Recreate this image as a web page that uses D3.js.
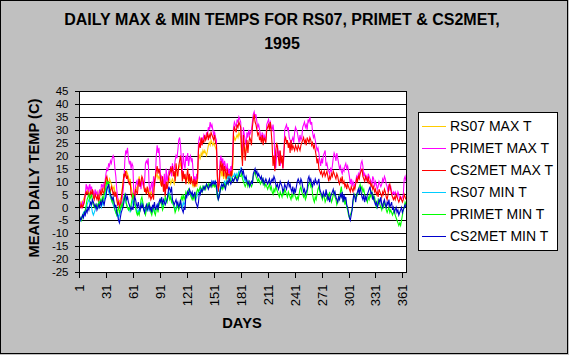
<!DOCTYPE html>
<html><head><meta charset="utf-8">
<script src="https://cdn.jsdelivr.net/npm/d3@7"></script>
<style>body{margin:0;background:#C0C0C0} svg{display:block}</style>
</head><body>
<svg id="c" width="569" height="355"></svg>
<script>
const titleLines = ["DAILY MAX & MIN TEMPS FOR RS07, PRIMET & CS2MET,", "1995"];
const yAxisTitle = "MEAN DAILY TEMP (C)";
const xAxisTitle = "DAYS";
const yTicks = [45,40,35,30,25,20,15,10,5,0,-5,-10,-15,-20,-25];
const yTickLabels = ["45","40","35","30","25","20","15","10","5","0","-5","-10","-15","-20","-25"];
const xTickDays = [1,31,61,91,121,151,181,211,241,271,301,331,361];
const xTickLabels = ["1","31","61","91","121","151","181","211","241","271","301","331","361"];
const seriesNames = ["RS07 MAX T","PRIMET MAX T","CS2MET MAX T","RS07 MIN T","PRIMET MIN T","CS2MET MIN T"];
const seriesColors = ["#FFCC00","#FF00FF","#FF0000","#00CCFF","#00FF00","#0000CC"];

const rs07Max = [1,2,1,2,1,3,4,5,6,6,
7,6,5,6,7,6,5,4,6,5,
5,6,4,5,6,7,6,8,7,9,
10,11,10,9,11,10,9,8,7,8,
6,5,4,2,3,2,3,4,7,10,
12,14,13,14,13,12,10,11,8,6,
5,4,6,8,7,8,10,12,10,9,
11,10,8,7,6,7,6,7,5,6,
5,6,7,6,9,11,12,13,11,12,
11,9,10,11,8,10,7,9,8,10,
10,11,9,10,11,10,9,11,12,13,
14,15,16,17,15,12,13,11,12,10,
11,12,9,11,10,11,9,8,9,8,
9,8,11,18,20,19,21,20,22,21,
22,21,20,22,24,25,24,26,25,24,
25,24,23,22,11,7,9,13,15,12,
14,11,13,12,10,13,12,13,11,12,
11,14,25,27,26,27,28,27,29,28,
27,20,18,24,22,21,23,22];

const primetMax = [1,2,1,0,2,1,3,5,9,7,
8,6,9,7,8,5,6,4,7,5,
6,4,5,7,5,9,8,9,7,10,
13,15,14,17,16,18,17,19,20,19,
15,12,7,4,2,1,2,1,3,6,
10,18,22,21,23,19,17,18,15,17,
16,5,3,8,10,9,11,8,10,7,
11,9,8,10,17,18,17,19,9,6,
8,10,5,12,8,11,20,24,21,23,
18,10,12,11,8,13,5,15,10,12,
14,13,16,12,17,14,15,18,20,19,
22,26,27,24,18,13,21,17,15,20,
18,21,16,19,20,18,19,14,10,12,
9,13,11,25,27,26,24,27,26,28,
27,26,29,28,31,30,33,31,32,30,
28,29,27,26,12,7,10,18,20,17,
19,15,18,16,14,17,13,15,12,16,
14,20,31,33,32,31,34,33,35,34,
33,25,19,31,28,26,24,29,27,30,
28,29,30,33,36,37,35,36,33,31,
32,30,28,27,29,26,28,27,26,32,
33,34,32,33,31,30,32,29,18,15,
20,24,19,22,16,20,18,15,19,30,
31,32,30,31,27,26,25,26,27,25,
29,31,30,29,27,25,28,26,27,31,
32,33,31,32,30,34,33,35,32,33,
29,27,28,26,24,22,23,21,18,16,
19,17,20,21,22,16,17,15,14,13,
15,14,16,19,21,20,18,21,19,17,
15,16,14,13,15,14,16,17,15,16,
14,12,9,11,8,10,9,8,10,12,
11,13,12,14,17,18,16,12,13,11,
12,10,13,12,11,10,9,12,11,8,
10,9,7,8,10,9,8,9,11,10,
12,11,9,8,6,9,7,8,6,5,
6,5,6,5,4,6,5,3,4,3,
4,5,11,12,10];

const cs2metMax = [0,1,0,1,0,1,2,5,6,5,
6,5,4,6,5,7,4,3,5,4,
3,5,2,4,6,5,7,6,5,9,
11,12,10,8,7,6,8,7,5,6,
4,6,3,1,2,0,1,3,6,9,
13,12,14,11,12,10,9,10,5,4,
3,5,4,7,6,5,9,11,8,10,
12,11,9,6,7,5,8,6,4,5,
3,4,5,3,10,12,14,16,13,15,
13,10,8,12,6,9,4,10,7,9,
12,13,15,14,16,12,14,10,17,14,
12,16,18,20,16,10,14,11,13,9,
12,15,10,13,9,12,10,9,11,8,
10,9,13,22,25,23,27,24,26,25,
28,26,27,29,26,28,27,29,28,27,
26,28,25,24,13,6,9,15,18,14,
17,12,16,14,11,15,11,13,10,14,
12,17,29,31,30,29,32,31,33,32,
31,22,16,28,24,18,22,26,21,25,
27,26,24,31,34,36,33,32,30,28,
29,26,27,25,28,24,27,26,25,30,
31,32,30,33,29,24,16,20,14,22,
25,23,19,16,22,17,20,15,21,26,
27,25,26,23,25,21,26,22,24,23,
22,24,23,22,24,23,22,24,25,26,
27,25,26,24,27,26,25,27,26,24,
25,23,24,22,20,17,19,15,14,13,
14,12,13,14,12,13,14,12,10,12,
11,13,12,14,13,12,11,13,12,10,
9,11,10,12,9,10,8,9,7,9,
8,7,6,8,7,6,8,7,9,11,
10,12,11,13,14,15,12,11,10,12,
11,10,12,9,10,8,9,7,8,6,
7,5,6,4,7,6,5,4,6,5,
7,6,4,3,5,8,9,7,5,4,
3,4,3,5,4,3,2,3,4,3,
2,3,5,4,3];

const rs07Min = [-4,-4,-5,-4,-3,-2,-3,-2,0,1,
2,3,2,1,0,-2,-3,-2,-1,0,
0,1,0,2,1,0,2,1,3,4,
6,8,7,6,5,4,3,2,1,0,
-1,-2,-3,-2,-4,-3,-2,0,1,2,
3,4,2,1,0,-1,0,-2,0,1,
3,2,1,0,-1,-2,-1,-2,0,1,
2,1,0,-1,-2,0,1,-1,0,-1,
-1,-2,0,-1,-2,-1,0,1,0,1,
2,3,2,0,1,2,3,2,3,5,
6,5,4,3,2,1,0,-1,0,1,
1,0,1,2,1,0,2,1,2,4,
5,6,5,6,5,4,5,4,4,5,
3,4,5,6,7,6,7,7,8,7,
8,8,9,8,8,9,9,9,10,9,
9,10,9,8,5,4,5,7,8,9,
8,9,10,9,10,11,12,11,12,11,
11,12,12,13,12,13,12,13,14,13,
15,14,13,12,11,10,11,10];

const primetMin = [-5,-5,-4,-5,-3,-3,-2,-1,1,3,
4,5,3,4,5,2,1,0,1,0,
1,0,2,1,3,2,4,3,5,6,
8,10,9,10,7,5,3,2,4,1,
-1,-2,-3,-1,0,-2,-1,1,0,2,
4,5,3,1,0,-1,0,-1,1,3,
5,4,2,0,-2,-3,-2,-3,-1,3,
4,2,0,-2,-3,-1,1,0,2,0,
-2,-3,-1,0,-2,-3,-1,0,-2,1,
2,3,1,-1,0,2,4,3,2,4,
5,3,4,2,3,1,0,-2,-1,0,
1,-1,0,2,4,3,5,3,4,6,
5,6,7,6,5,4,3,4,3,5,
4,6,7,6,7,8,7,6,8,7,
8,7,9,8,9,8,9,8,9,8,
9,8,9,7,4,3,5,6,7,8,
7,8,9,8,9,10,9,10,11,10,
10,11,10,11,12,11,12,11,13,12,
12,13,11,10,9,8,9,10,8,9,
10,9,8,9,12,13,14,12,11,10,
11,10,9,10,11,9,10,8,9,8,
7,8,9,7,8,6,5,7,6,8,
7,6,5,4,6,5,4,6,5,7,
6,5,4,6,5,4,3,5,4,6,
5,4,3,4,3,5,7,8,6,5,
4,5,3,4,6,8,9,10,8,9,
5,3,2,4,3,5,7,8,6,5,
4,3,5,4,2,3,4,5,3,6,
4,2,3,5,6,4,3,1,2,4,
3,6,8,5,2,4,1,3,0,-1,
-3,-4,-3,-2,-1,2,4,5,3,4,
5,7,8,9,7,8,6,7,5,4,
3,2,4,3,5,4,6,5,3,4,
2,0,1,3,2,1,0,-1,1,0,
2,1,-1,-2,-1,0,-2,-1,-2,-3,
-2,-1,-3,-4,-5,-6,-7,-6,-7,-5,
-3,-1,0,2,1];

const cs2metMin = [-5,-4,-5,-4,-3,-4,-2,-3,-1,-2,
0,-1,1,2,1,3,2,1,0,1,
-1,0,1,0,2,1,3,2,1,3,
4,7,8,9,6,5,4,3,4,2,
0,1,-2,-3,-5,-6,-4,-2,-1,0,
2,4,5,3,4,2,1,0,-1,0,
-1,2,4,3,1,0,2,0,-1,1,
0,1,-1,-2,0,1,-1,0,1,-1,
0,-2,1,0,2,-1,0,1,-1,2,
3,2,4,1,3,2,1,2,3,5,
8,7,6,8,3,2,1,2,3,1,
2,0,1,3,0,-1,-2,0,-1,5,
4,6,5,7,6,5,6,4,5,6,
2,1,0,2,6,5,7,6,7,8,
7,8,9,8,7,8,9,8,10,9,
10,9,10,8,5,3,4,6,8,9,
8,9,8,7,9,10,9,11,10,9,
10,11,10,11,12,11,10,11,12,13,
14,15,13,14,12,11,12,10,9,10,
8,9,10,9,13,14,15,13,14,12,
13,12,11,12,10,11,9,10,11,10,
9,10,11,9,10,11,10,12,11,9,
8,9,7,8,10,9,8,6,7,9,
8,7,9,10,8,9,7,6,8,5,
7,6,8,10,11,10,9,11,10,8,
6,7,5,6,7,11,12,10,11,9,
8,10,9,11,10,9,10,11,7,6,
5,4,6,5,4,7,5,3,4,2,
4,5,6,7,5,6,4,3,2,4,
3,5,4,6,2,5,3,4,1,0,
-2,-4,-5,-3,-1,3,5,4,2,5,
6,7,5,8,6,4,3,5,2,4,
3,5,6,7,8,5,6,3,4,2,
1,2,0,1,3,2,4,1,0,2,
3,1,0,2,1,3,0,1,2,-1,
0,-2,-1,0,-2,-1,-3,-2,-1,0,
-2,-1,0,1,0];

const seriesValues = [rs07Max, primetMax, cs2metMax, rs07Min, primetMin, cs2metMin];

const FONT = "'Liberation Sans', Arial, sans-serif";
const svg = d3.select("#c");
svg.append("rect").attr("x",0.5).attr("y",0.5).attr("width",567).attr("height",353)
  .attr("fill","#C0C0C0").attr("stroke","#000").attr("stroke-width",1);

const plot = {l:79, r:406, t:91, b:272};
const x = d3.scaleLinear().domain([1,365]).range([plot.l, plot.r]);
const y = d3.scaleLinear().domain([-25,45]).range([plot.b, plot.t]);

svg.append("rect").attr("x",plot.l).attr("y",plot.t).attr("width",plot.r-plot.l).attr("height",plot.b-plot.t).attr("fill","#fff");

// gridlines
svg.append("g").selectAll("line").data(yTicks).join("line")
  .attr("x1",plot.l).attr("x2",plot.r)
  .attr("y1",d=>Math.round(y(d))+0.5).attr("y2",d=>Math.round(y(d))+0.5)
  .attr("stroke","#000").attr("stroke-width",1).attr("shape-rendering","crispEdges");

// series
svg.append("defs").append("clipPath").attr("id","pc").append("rect")
  .attr("x",plot.l).attr("y",plot.t).attr("width",plot.r-plot.l).attr("height",plot.b-plot.t);
const line = d3.line().x((d,i)=>x(i+1)).y(d=>y(d));
const sg = svg.append("g").attr("clip-path","url(#pc)");
seriesValues.forEach((vals,k)=>{
  sg.append("path").datum(vals).attr("d",line)
    .attr("fill","none").attr("stroke",seriesColors[k]).attr("stroke-width",1.1)
    .attr("stroke-linejoin","miter");
});

// plot border
svg.append("rect").attr("x",plot.l+0.5).attr("y",Math.round(y(45))+0.5)
  .attr("width",plot.r-plot.l).attr("height",Math.round(y(-25))-Math.round(y(45)))
  .attr("fill","none").attr("stroke","#000").attr("shape-rendering","crispEdges");

// y axis
const yAxis = svg.append("g").attr("transform",`translate(${plot.l+0.5},0.5)`)
  .call(d3.axisLeft(y).tickValues(yTicks).tickSize(5).tickPadding(6)
    .tickFormat((d,i)=>yTickLabels[i]));
yAxis.selectAll("text").style("font-family",FONT).style("font-size","11.5px").attr("fill","#000");
yAxis.select(".domain").remove();
yAxis.selectAll(".tick line").attr("stroke","#000").attr("shape-rendering","crispEdges");
yAxis.selectAll(".tick").attr("transform",d=>`translate(0,${y(d)})`);

// x axis
const xAxis = svg.append("g").attr("transform",`translate(0.5,${Math.round(y(-25))+0.5})`)
  .call(d3.axisBottom(x).tickValues(xTickDays).tickSize(5)
    .tickFormat((d,i)=>xTickLabels[i]));
xAxis.select(".domain").remove();
xAxis.selectAll(".tick line").attr("stroke","#000").attr("shape-rendering","crispEdges");
xAxis.selectAll(".tick").attr("transform",d=>`translate(${Math.round(x(d))},0)`);
xAxis.selectAll("text").style("font-family",FONT).style("font-size","13px").attr("fill","#000")
  .attr("transform","rotate(-90)").attr("x",-12).attr("y",0).attr("dy","0.36em")
  .style("text-anchor","end");

// titles
const t = svg.append("text").attr("text-anchor","middle").style("font-family",FONT)
  .style("font-size","16px").style("font-weight","bold");
titleLines.forEach((s,i)=>t.append("tspan").attr("x",282).attr("y",25+i*24).text(s));

svg.append("text").attr("transform","translate(39,178) rotate(-90)").attr("text-anchor","middle")
  .style("font-family",FONT).style("font-size","14.7px").style("font-weight","bold").text(yAxisTitle);
svg.append("text").attr("x",242).attr("y",328).attr("text-anchor","middle")
  .style("font-family",FONT).style("font-size","14.7px").style("font-weight","bold").text(xAxisTitle);

// legend
const lg = svg.append("g");
lg.append("rect").attr("x",418.5).attr("y",112.5).attr("width",139).attr("height",138)
  .attr("fill","#fff").attr("stroke","#000");
seriesNames.forEach((n,i)=>{
  const yy = 126 + i*22;
  lg.append("line").attr("x1",422).attr("x2",446).attr("y1",yy+0.5).attr("y2",yy+0.5)
    .attr("stroke",seriesColors[i]).attr("stroke-width",1);
  lg.append("text").attr("x",450).attr("y",yy).attr("dy","0.35em")
    .style("font-family",FONT).style("font-size","14px").text(n);
});
</script>
</body></html>
